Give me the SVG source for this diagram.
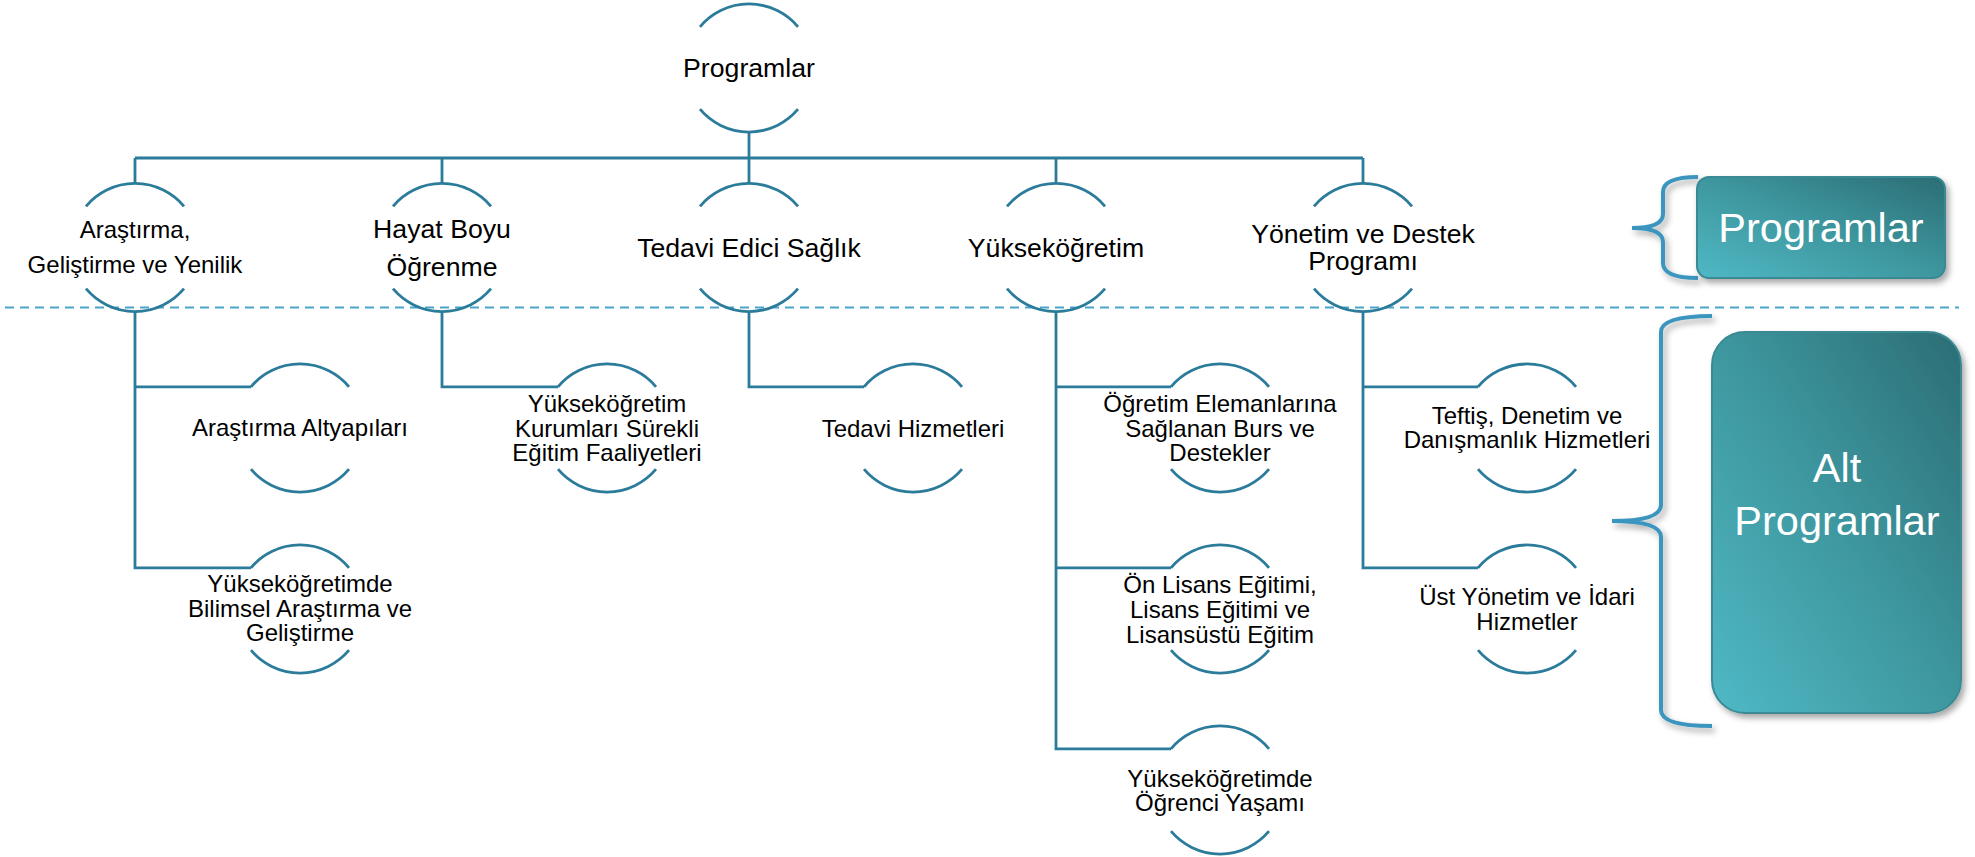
<svg xmlns="http://www.w3.org/2000/svg" width="1975" height="857" viewBox="0 0 1975 857">
<defs>
<style>
.arc{fill:none;stroke:#2b7b9b;stroke-width:2.8}
.con{fill:none;stroke:#2b7b9b;stroke-width:2.8}
.t1{font-family:"Liberation Sans",Arial,sans-serif;font-size:26.67px;fill:#000;text-anchor:middle}
.t1s{font-family:"Liberation Sans",Arial,sans-serif;font-size:24px;fill:#000;text-anchor:middle}
.t2{font-family:"Liberation Sans",Arial,sans-serif;font-size:24px;fill:#000;text-anchor:middle}
.tb{font-family:"Liberation Sans",Arial,sans-serif;font-size:41.5px;fill:#fff;text-anchor:middle}
.brace{fill:none;stroke:#3a95bf;stroke-width:4;stroke-linecap:butt}
.dash{fill:none;stroke:#4aa3c8;stroke-width:2;stroke-dasharray:9 6}
.box{fill:url(#bg);stroke:#3a8a93;stroke-width:2}
</style>
<linearGradient id="bg" x1="0" y1="1" x2="1" y2="0">
<stop offset="0" stop-color="#4fb9c5"/>
<stop offset="0.5" stop-color="#3e979f"/>
<stop offset="1" stop-color="#2b6d75"/>
</linearGradient>
<filter id="sh" x="-20%" y="-20%" width="140%" height="140%">
<feDropShadow dx="3" dy="4" stdDeviation="3" flood-color="#000" flood-opacity="0.35"/>
</filter>
</defs>
<rect width="1975" height="857" fill="#fff"/>

<g id="connectors">
<path class="con" d="M749,132 V158 M135,158 H1363 M135,158 V183.5 M442,158 V183.5 M749,158 V183.5 M1056,158 V183.5 M1363,158 V183.5"/>
<path class="con" d="M135,311.5 V567.8 H251 M135,386.8 H251"/>
<path class="con" d="M442,311.5 V386.8 H558"/>
<path class="con" d="M749,311.5 V386.8 H864"/>
<path class="con" d="M1056,311.5 V748.8 H1171 M1056,386.8 H1171 M1056,567.8 H1171"/>
<path class="con" d="M1363,311.5 V567.8 H1478 M1363,386.8 H1478"/>
</g>

<line class="dash" x1="5" y1="307.5" x2="1959" y2="307.5"/>

<g id="n-root">
<path class="arc" d="M700,26.8 A64,64 0 0 1 798,26.8 M700,109.2 A64,64 0 0 0 798,109.2"/>
<text class="t1" x="749" y="77">Programlar</text>
</g>

<g id="n-arge">
<path class="arc" d="M86,206.3 A64,64 0 0 1 184,206.3 M86,288.7 A64,64 0 0 0 184,288.7"/>
<text class="t1s" x="135" y="238">Araştırma,</text>
<text class="t1s" x="135" y="273">Geliştirme ve Yenilik</text>
</g>
<g id="n-hayat">
<path class="arc" d="M393,206.3 A64,64 0 0 1 491,206.3 M393,288.7 A64,64 0 0 0 491,288.7"/>
<text class="t1" x="442" y="238">Hayat Boyu</text>
<text class="t1" x="442" y="276">Öğrenme</text>
</g>
<g id="n-tedavi">
<path class="arc" d="M700,206.3 A64,64 0 0 1 798,206.3 M700,288.7 A64,64 0 0 0 798,288.7"/>
<text class="t1" x="749" y="257">Tedavi Edici Sağlık</text>
</g>
<g id="n-yuksek">
<path class="arc" d="M1007,206.3 A64,64 0 0 1 1105,206.3 M1007,288.7 A64,64 0 0 0 1105,288.7"/>
<text class="t1" x="1056" y="257">Yükseköğretim</text>
</g>
<g id="n-yonetim">
<path class="arc" d="M1314,206.3 A64,64 0 0 1 1412,206.3 M1314,288.7 A64,64 0 0 0 1412,288.7"/>
<text class="t1" x="1363" y="243">Yönetim ve Destek</text>
<text class="t1" x="1363" y="270">Programı</text>
</g>

<g id="n-altyapi">
<path class="arc" d="M251,386.8 A64,64 0 0 1 349,386.8 M251,469.2 A64,64 0 0 0 349,469.2"/>
<text class="t2" x="300" y="436">Araştırma Altyapıları</text>
</g>
<g id="n-bilimsel">
<path class="arc" d="M251,567.8 A64,64 0 0 1 349,567.8 M251,650.2 A64,64 0 0 0 349,650.2"/>
<text class="t2" x="300" y="592">Yükseköğretimde</text>
<text class="t2" x="300" y="616.5">Bilimsel Araştırma ve</text>
<text class="t2" x="300" y="641">Geliştirme</text>
</g>
<g id="n-surekli">
<path class="arc" d="M558,386.8 A64,64 0 0 1 656,386.8 M558,469.2 A64,64 0 0 0 656,469.2"/>
<text class="t2" x="607" y="412">Yükseköğretim</text>
<text class="t2" x="607" y="436.5">Kurumları Sürekli</text>
<text class="t2" x="607" y="461">Eğitim Faaliyetleri</text>
</g>
<g id="n-tedhiz">
<path class="arc" d="M864,386.8 A64,64 0 0 1 962,386.8 M864,469.2 A64,64 0 0 0 962,469.2"/>
<text class="t2" x="913" y="437">Tedavi Hizmetleri</text>
</g>
<g id="n-burs">
<path class="arc" d="M1171,386.8 A64,64 0 0 1 1269,386.8 M1171,469.2 A64,64 0 0 0 1269,469.2"/>
<text class="t2" x="1220" y="412">Öğretim Elemanlarına</text>
<text class="t2" x="1220" y="436.5">Sağlanan Burs ve</text>
<text class="t2" x="1220" y="461">Destekler</text>
</g>
<g id="n-lisans">
<path class="arc" d="M1171,567.8 A64,64 0 0 1 1269,567.8 M1171,650.2 A64,64 0 0 0 1269,650.2"/>
<text class="t2" x="1220" y="593">Ön Lisans Eğitimi,</text>
<text class="t2" x="1220" y="618">Lisans Eğitimi ve</text>
<text class="t2" x="1220" y="643">Lisansüstü Eğitim</text>
</g>
<g id="n-yasam">
<path class="arc" d="M1171,748.8 A64,64 0 0 1 1269,748.8 M1171,831.2 A64,64 0 0 0 1269,831.2"/>
<text class="t2" x="1220" y="787">Yükseköğretimde</text>
<text class="t2" x="1220" y="811">Öğrenci Yaşamı</text>
</g>
<g id="n-teftis">
<path class="arc" d="M1478,386.8 A64,64 0 0 1 1576,386.8 M1478,469.2 A64,64 0 0 0 1576,469.2"/>
<text class="t2" x="1527" y="423.5">Teftiş, Denetim ve</text>
<text class="t2" x="1527" y="448">Danışmanlık Hizmetleri</text>
</g>
<g id="n-idari">
<path class="arc" d="M1478,567.8 A64,64 0 0 1 1576,567.8 M1478,650.2 A64,64 0 0 0 1576,650.2"/>
<text class="t2" x="1527" y="605">Üst Yönetim ve İdari</text>
<text class="t2" x="1527" y="629.5">Hizmetler</text>
</g>

<g id="legend-programlar">
<path class="brace" filter="url(#sh)" d="M1698,177 Q1663,177 1663,192 L1663,214 Q1663,228 1632,228 Q1663,228 1663,242 L1663,263 Q1663,278 1698,278"/>
<rect class="box" filter="url(#sh)" x="1697" y="177" width="248" height="101" rx="12"/>
<text class="tb" x="1821" y="242">Programlar</text>
</g>
<g id="legend-alt">
<path class="brace" filter="url(#sh)" d="M1712,316 Q1661,316 1661,332 L1661,505 Q1661,521 1612,521 Q1661,521 1661,537 L1661,710 Q1661,726 1712,726"/>
<rect class="box" filter="url(#sh)" x="1712" y="332" width="249" height="381" rx="33"/>
<text class="tb" x="1837" y="482">Alt</text>
<text class="tb" x="1837" y="535">Programlar</text>
</g>
</svg>
